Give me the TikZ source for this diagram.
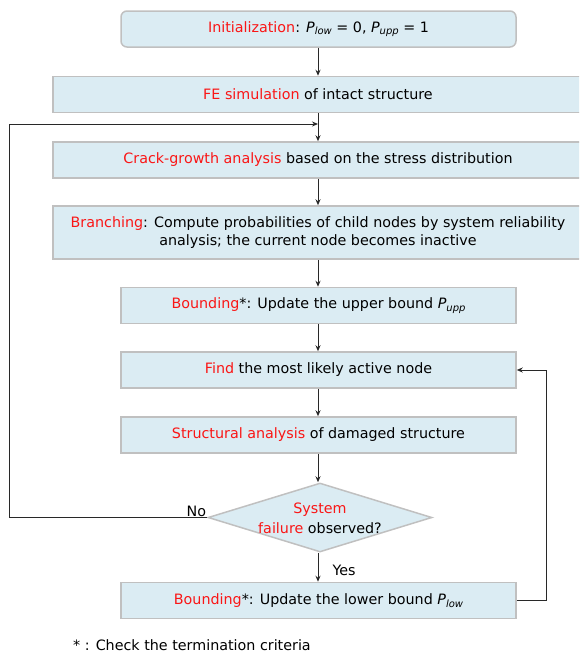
\documentclass[tikz,border=0pt]{standalone}
\usepackage{fontspec}
\setmainfont{DejaVu Sans}
\usetikzlibrary{shapes.geometric,arrows.meta}
\definecolor{boxfill}{RGB}{219,236,243}
\definecolor{boxline}{RGB}{192,192,192}
\definecolor{hl}{RGB}{250,22,22}
\definecolor{wire}{RGB}{40,40,40}
\newcommand{\hlt}[1]{\textcolor{hl}{#1}}
\newcommand{\Pv}[1]{\textit{P}\raisebox{-0.35ex}{\fontsize{10}{10}\selectfont\textit{#1}}}

\begin{document}
\begin{tikzpicture}[x=1pt,y=-1pt,
  font=\fontsize{14.3}{18}\selectfont,
  flowbox/.style={draw=boxline, line width=1.5pt, fill=boxfill, minimum height=36, inner sep=0, align=center},
  widebox/.style={flowbox, minimum width=530},
  narrowbox/.style={flowbox, minimum width=395},
  link/.style={-{Stealth[length=6,width=5]}, line width=0.9, draw=wire}
]
\useasboundingbox (0,0) rectangle (579,654);
\clip (0,0) rectangle (579,654);

% process steps
\node[narrowbox, rounded corners=6] (init) at (318.5,29)
  {\hlt{Initialization}: \Pv{low} = 0, \Pv{upp} = 1};
\node[widebox] (fe) at (318,94.5) {\hlt{FE simulation} of intact structure};
\node[widebox] (crack) at (318,160) {\hlt{Crack-growth analysis} based on the stress distribution};
\node[widebox, minimum height=53] (branch) at (318,232.5)
  {\hlt{Branching}: Compute probabilities of child nodes by system reliability\\ analysis; the current node becomes inactive};
\node[narrowbox] (upper) at (318.5,305.5) {\hlt{Bounding}*: Update the upper bound \Pv{upp}};
\node[narrowbox] (find) at (318.5,370) {\hlt{Find} the most likely active node};
\node[narrowbox] (struct) at (318.5,435) {\hlt{Structural analysis} of damaged structure};

% decision
\node[diamond, draw=boxline, line width=1.5pt, fill=boxfill, inner sep=0,
      minimum width=224, minimum height=69] (fail) at (320,517.5) {};
\node[align=center, font=\fontsize{14.3}{20}\selectfont] (failtxt) at (320,518)
  {\hlt{System}\\\hlt{failure} observed?};

\node[narrowbox] (lower) at (318.5,600.5) {\hlt{Bounding}*: Update the lower bound \Pv{low}};

% footnote
\node[anchor=base west, inner sep=0] (note) at (73,650) {* : Check the termination criteria};

% helper points of the connectors
\coordinate (axis) at (318,0);
\coordinate (join) at (318,124);
\coordinate (farleft) at (9,517.5);
\coordinate (farright) at (546,600.5);

% main chain
\draw[link] (init.south -| axis) -- (fe.north -| axis);
\draw[link] (fe.south -| axis) -- (crack.north -| axis);
\draw[link] (crack.south -| axis) -- (branch.north -| axis);
\draw[link] (branch.south -| axis) -- (upper.north -| axis);
\draw[link] (upper.south -| axis) -- (find.north -| axis);
\draw[link] (find.south -| axis) -- (struct.north -| axis);
\draw[link] (struct.south -| axis) -- (fail.north -| axis);
\draw[link] (fail.south -| axis) -- (lower.north -| axis);

% branches out of the decision
\draw[link] (fail.west) -- (farleft) -- (farleft |- join) -- (join);
\draw[link] (lower.east) -- (farright) -- (farright |- find.east) -- (find.east);

\node[anchor=south east, inner sep=1] (nolab) at (fail.west) {No};
\node[anchor=west] (yeslab) at (329,570) {Yes};
\end{tikzpicture}
\end{document}
